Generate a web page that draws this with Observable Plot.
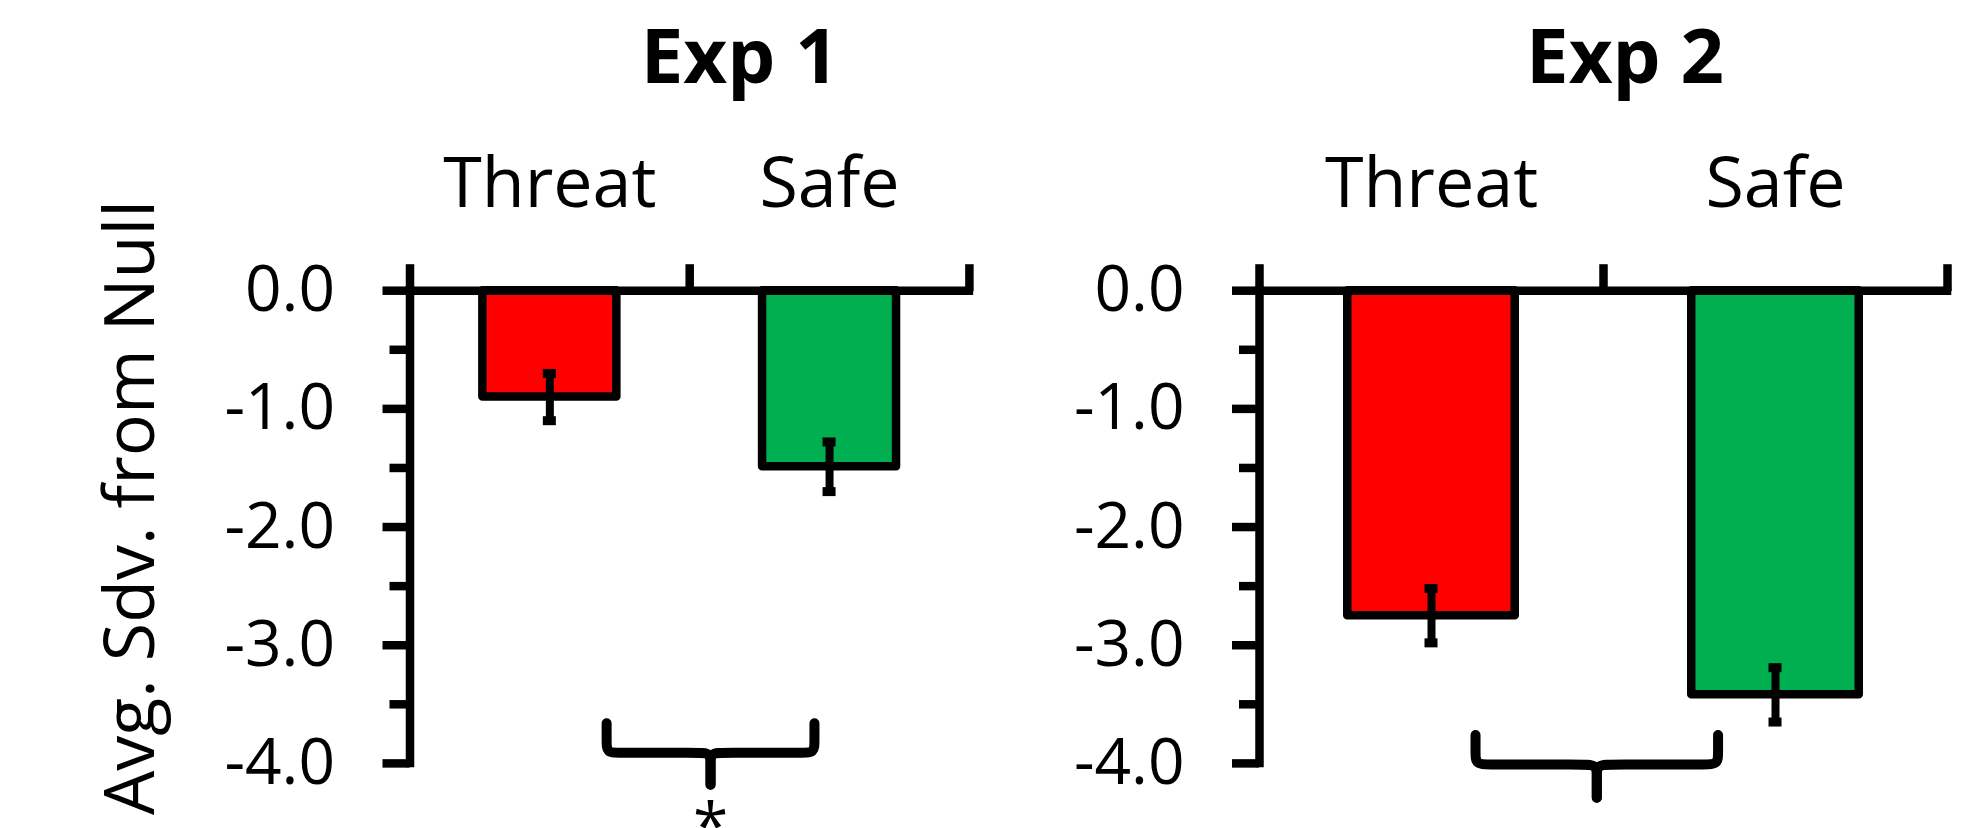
<!DOCTYPE html>
<html><head><meta charset="utf-8">
<script src="https://cdn.jsdelivr.net/npm/d3@7"></script>
<script src="https://cdn.jsdelivr.net/npm/@observablehq/plot@0.6"></script>
<style>
html,body{margin:0;padding:0;background:#fff;overflow:hidden;}
#wrap{position:relative;width:1983px;height:828px;}
#wrap svg{position:absolute;top:0;}
</style></head><body><div id="wrap"></div>
<script>
// ---- data ----
const categories = ["Threat", "Safe"];
const barColors = ["#FF0000", "#00B050"];
const exp1Title = "Exp 1";
const exp1Means = [-0.90, -1.49];
const exp1Errors = [0.20, 0.21];
const exp2Title = "Exp 2";
const exp2Means = [-2.75, -3.42];
const exp2Errors = [0.23, 0.23];
const yMajorTicks = [0, -1, -2, -3, -4];
const yTickLabels = ["0.0", "-1.0", "-2.0", "-3.0", "-4.0"];
const yMinorTicks = [-0.5, -1.5, -2.5, -3.5];
const xBoundaryTicks = [0, 1, 2];
const yLabel = "Avg. Sdv. from Null";
// comparison braces: x in category units (0..2), y in data units
const exp1Brace = {x1: 0.703, x2: 1.446, top: -3.66, mid: -3.91, tip: -4.18, mark: "*"};
const exp2Brace = {x1: 0.628, x2: 1.333, top: -3.76, mid: -4.01, tip: -4.29, mark: ""};

function bracePoints(b, rx, ry) {
  const cx = (b.x1 + b.x2) / 2;
  const pts = [];
  [[b.x1, 1], [b.x2, -1]].forEach(([xe, s], h) => {
    [[xe, b.top], [xe, b.mid + ry], [xe, b.mid], [xe + s * rx, b.mid],
     [cx - s * rx, b.mid], [cx, b.mid], [cx, b.mid - ry], [cx, b.tip]]
      .forEach(([x, y]) => pts.push({x, y, half: h}));
  });
  return pts;
}

function panel(o) {
  const bars = categories.map((c, i) => ({cat: c, pos: i + 0.5, mean: o.means[i], err: o.errors[i]}));
  const cx = (o.brace.x1 + o.brace.x2) / 2;
  const sw = 8.5;
  const marks = [
    Plot.rectY(bars, {x1: d => d.pos - o.barWidth / 2, x2: d => d.pos + o.barWidth / 2, y1: 0, y2: "mean",
      fill: "cat", stroke: "black", strokeWidth: sw, strokeLinejoin: "round"}),
    Plot.ruleX(bars, {x: "pos", y1: d => d.mean - d.err, y2: d => d.mean + d.err, stroke: "black", strokeWidth: 8}),
    Plot.ruleY(bars, {x1: "pos", x2: "pos", y: d => d.mean + d.err, insetLeft: -6.5, insetRight: -6.5, stroke: "black", strokeWidth: 9}),
    Plot.ruleY(bars, {x1: "pos", x2: "pos", y: d => d.mean - d.err, insetLeft: -6.5, insetRight: -6.5, stroke: "black", strokeWidth: 9}),
    Plot.ruleX([0], {y1: -4, y2: 0, stroke: "black", strokeWidth: sw, strokeLinecap: "square"}),
    Plot.ruleY([0], {x1: 0, x2: 2, stroke: "black", strokeWidth: sw, strokeLinecap: "square"}),
    Plot.axisY(yMajorTicks, {anchor: "left", tickSize: 27, tickPadding: 48, strokeWidth: sw, fontSize: 64,
      tickFormat: d => yTickLabels[yMajorTicks.indexOf(d)], label: null}),
    Plot.axisY(yMinorTicks, {anchor: "left", tickSize: 20, strokeWidth: sw, tickFormat: () => "", label: null}),
    Plot.axisX(xBoundaryTicks, {anchor: "top", tickSize: 27, strokeWidth: sw, tickFormat: () => "", label: null}),
    Plot.text(bars, {x: "pos", y: 0, text: "cat", dy: -84, lineAnchor: "bottom", fontSize: 70, fill: "black"}),
    Plot.text([o.title], {frameAnchor: "top", dx: o.titleDx, dy: -208, lineAnchor: "bottom", fontSize: 76, fontWeight: "bold", fill: "black"}),
    Plot.line(bracePoints(o.brace, 0.045, 0.1), {x: "x", y: "y", z: "half", curve: "basis", stroke: "black", strokeWidth: 10}),
    Plot.text([o.brace], {x: () => cx, y: "tip", text: "mark", dy: 19, lineAnchor: "top", fontSize: 64, fill: "black"})
  ];
  if (o.showYLabel) {
    marks.push(Plot.text([yLabel], {frameAnchor: "left", rotate: -90, dx: -278, dy: -19.5,
      textAnchor: "middle", lineAnchor: "middle", fontSize: 70, fill: "black"}));
  }
  const svg = Plot.plot({
    width: o.width, height: 828,
    marginLeft: o.marginLeft, marginRight: o.marginRight, marginTop: 290.2, marginBottom: 65.1,
    x: {type: "linear", domain: [0, 2], axis: null},
    y: {domain: [-4, 0], axis: null},
    color: {domain: categories, range: barColors},
    style: {fontFamily: "'Open Sans', sans-serif", color: "black", background: "transparent", overflow: "visible"},
    marks
  });
  svg.style.left = o.left + "px";
  svg.style.maxWidth = "none";
  return svg;
}

const wrap = document.getElementById("wrap");
wrap.appendChild(panel({title: exp1Title, means: exp1Means, errors: exp1Errors, brace: exp1Brace,
  left: 0, width: 1000, marginLeft: 409.5, marginRight: 31.1, barWidth: 0.479, titleDx: 50, showYLabel: true}));
wrap.appendChild(panel({title: exp2Title, means: exp2Means, errors: exp2Errors, brace: exp2Brace,
  left: 1000, width: 983, marginLeft: 259, marginRight: 36, barWidth: 0.487, titleDx: 21.5, showYLabel: false}));
</script>
</body></html>
